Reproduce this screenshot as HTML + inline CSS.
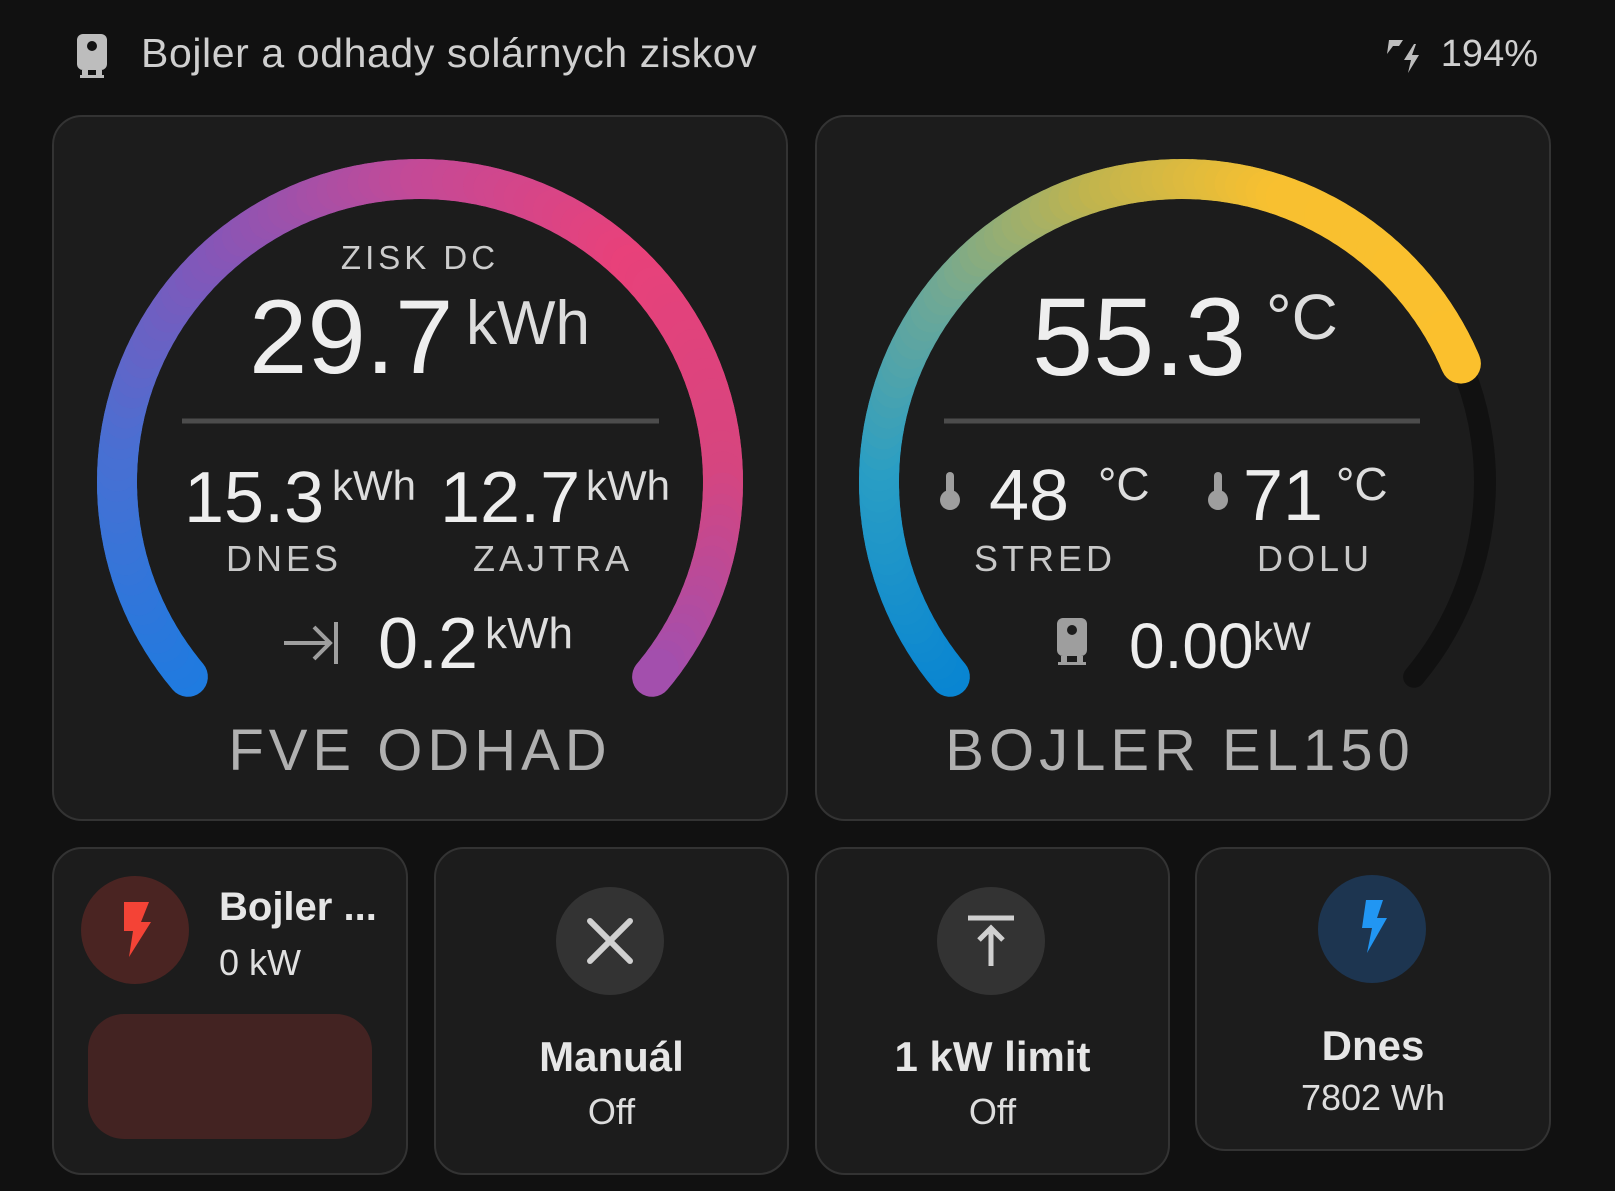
<!DOCTYPE html>
<html><head><meta charset="utf-8"><style>
html,body{margin:0;padding:0;background:#111111;width:1615px;height:1191px;overflow:hidden;font-family:"Liberation Sans",sans-serif;}
.card{position:absolute;background:#1c1c1c;border:2px solid #333;border-radius:30px;box-sizing:border-box;}
.t{position:absolute;white-space:nowrap;line-height:1;color:#e6e6e6;}
</style></head><body>
<div class="card" style="left:52px;top:115px;width:736px;height:706px"></div>
<div class="card" style="left:815px;top:115px;width:736px;height:706px"></div>
<div class="card" style="left:52px;top:847px;width:356px;height:328px"></div>
<div class="card" style="left:434px;top:847px;width:355px;height:328px"></div>
<div class="card" style="left:815px;top:847px;width:355px;height:328px"></div>
<div class="card" style="left:1195px;top:847px;width:356px;height:304px"></div>

<svg id="g" width="1615" height="1191" style="position:absolute;left:0;top:0">
 <g fill="#bdbdbd"><rect x="77" y="34" width="30" height="36" rx="6"/><rect x="82" y="70" width="6" height="6"/><rect x="96" y="70" width="6" height="6"/><rect x="80" y="75" width="24" height="3"/><circle cx="92" cy="46" r="5" fill="#111"/></g>
 <g fill="#bdbdbd"><path d="M1389 40h14l-4 6h-6l-6 8z"/><path d="M1414 44l-10 16h7l-3 13 11-18h-7l4-11z"/></g>
 <line x1="182" y1="421" x2="659" y2="421" stroke="#4c4c4c" stroke-width="5"/>
 <line x1="944" y1="421" x2="1420" y2="421" stroke="#4c4c4c" stroke-width="5"/>
 <g stroke="#9e9e9e" stroke-width="4" fill="none"><line x1="284" y1="643" x2="330" y2="643"/><polyline points="314,627 330,643 314,659"/><line x1="336" y1="622" x2="336" y2="664"/></g>
 <g fill="#9e9e9e"><rect x="946" y="472" width="8" height="30" rx="4"/><circle cx="950" cy="500" r="10"/><rect x="1214" y="472" width="8" height="30" rx="4"/><circle cx="1218" cy="500" r="10"/></g>
 <g fill="#9e9e9e"><rect x="1057" y="618" width="30" height="38" rx="6"/><rect x="1061" y="656" width="6" height="7"/><rect x="1077" y="656" width="6" height="7"/><rect x="1058" y="662" width="28" height="3"/><circle cx="1072" cy="630" r="5" fill="#1c1c1c"/></g>
 <circle cx="135" cy="930" r="54" fill="#4a2422"/>
 <path d="M124 902h25l-8 20h10l-22 35 4-26h-9z" fill="#f44336"/>
 <rect x="88" y="1014" width="284" height="125" rx="36" fill="#432322"/>
 <circle cx="610" cy="941" r="54" fill="#333"/>
 <g stroke="#d0d0d0" stroke-width="6" stroke-linecap="round"><line x1="590" y1="921" x2="630" y2="961"/><line x1="630" y1="921" x2="590" y2="961"/></g>
 <circle cx="991" cy="941" r="54" fill="#333"/>
 <g stroke="#d0d0d0" stroke-width="5" fill="none"><line x1="968" y1="918" x2="1014" y2="918"/><line x1="991" y1="928" x2="991" y2="966"/><polyline points="979,940 991,928 1003,940"/></g>
 <circle cx="1372" cy="929" r="54" fill="#1d3550"/>
 <path d="M1366 900h17l-6 18h10l-20 35 5-25h-10z" fill="#2196f3"/>
</svg>

<div class="t" style="left:141px;top:33px;font-size:41px;color:#cfcfcf;font-weight:500;letter-spacing:0.6px">Bojler a odhady solárnych ziskov</div>
<div class="t" style="right:77px;top:35px;font-size:38px;color:#cfcfcf">194%</div>

<div class="t" style="left:0;width:840px;text-align:center;top:241px;font-size:33px;letter-spacing:4px;color:#cccccc">ZISK DC</div>
<div class="t" style="left:249px;top:285px;font-size:105px;color:#eee">29.7</div>
<div class="t" style="left:466px;top:293px;font-size:62px;color:#ddd">kWh</div>
<div class="t" style="left:184px;top:462px;font-size:72px;color:#eee">15.3</div>
<div class="t" style="left:332px;top:465px;font-size:42px;color:#ddd">kWh</div>
<div class="t" style="left:440px;top:462px;font-size:72px;color:#eee">12.7</div>
<div class="t" style="left:586px;top:465px;font-size:42px;color:#ddd">kWh</div>
<div class="t" style="left:184px;width:200px;text-align:center;top:541px;font-size:36px;letter-spacing:4px;color:#c8c8c8">DNES</div>
<div class="t" style="left:453px;width:200px;text-align:center;top:541px;font-size:36px;letter-spacing:4px;color:#c8c8c8">ZAJTRA</div>
<div class="t" style="left:378px;top:608px;font-size:72px;color:#eee">0.2</div>
<div class="t" style="left:485px;top:612px;font-size:44px;color:#ddd">kWh</div>
<div class="t" style="left:0;width:840px;text-align:center;top:722px;font-size:58px;letter-spacing:5px;color:#b0b0b0">FVE ODHAD</div>

<div class="t" style="left:1032px;top:283px;font-size:110px;color:#eee">55.3</div>
<div class="t" style="left:1266px;top:285px;font-size:64px;color:#ddd">°C</div>
<div class="t" style="left:989px;top:460px;font-size:72px;color:#eee">48</div>
<div class="t" style="left:1098px;top:461px;font-size:46px;color:#ddd">°C</div>
<div class="t" style="left:1243px;top:460px;font-size:72px;color:#eee">71</div>
<div class="t" style="left:1336px;top:461px;font-size:46px;color:#ddd">°C</div>
<div class="t" style="left:945px;width:200px;text-align:center;top:541px;font-size:36px;letter-spacing:4px;color:#c8c8c8">STRED</div>
<div class="t" style="left:1215px;width:200px;text-align:center;top:541px;font-size:36px;letter-spacing:4px;color:#c8c8c8">DOLU</div>
<div class="t" style="left:1129px;top:614px;font-size:64px;color:#eee">0.00</div>
<div class="t" style="left:1253px;top:617px;font-size:40px;color:#ddd">kW</div>
<div class="t" style="left:780px;width:800px;text-align:center;top:722px;font-size:58px;letter-spacing:5px;color:#b0b0b0">BOJLER EL150</div>

<div class="t" style="left:219px;top:887px;font-size:40px;font-weight:bold;color:#e6e6e6">Bojler ...</div>
<div class="t" style="left:219px;top:945px;font-size:36px;color:#e0e0e0">0 kW</div>
<div class="t" style="left:434px;width:355px;text-align:center;top:1036px;font-size:42px;font-weight:bold">Manuál</div>
<div class="t" style="left:434px;width:355px;text-align:center;top:1094px;font-size:36px;color:#ddd">Off</div>
<div class="t" style="left:815px;width:355px;text-align:center;top:1036px;font-size:42px;font-weight:bold">1 kW limit</div>
<div class="t" style="left:815px;width:355px;text-align:center;top:1094px;font-size:36px;color:#ddd">Off</div>
<div class="t" style="left:1195px;width:356px;text-align:center;top:1025px;font-size:42px;font-weight:bold">Dnes</div>
<div class="t" style="left:1195px;width:356px;text-align:center;top:1080px;font-size:36px;color:#ddd">7802 Wh</div>

<script>
var svg=document.getElementById('g'),NS='http://www.w3.org/2000/svg';
function hex(c){return [parseInt(c.substr(1,2),16),parseInt(c.substr(3,2),16),parseInt(c.substr(5,2),16)];}
function col(stops,t){for(var i=0;i<stops.length-1;i++){var a=stops[i],b=stops[i+1];if(t>=a[0]&&t<=b[0]){var f=(t-a[0])/(b[0]-a[0]),x=hex(a[1]),y=hex(b[1]);return 'rgb('+[0,1,2].map(function(k){return Math.round(x[k]+(y[k]-x[k])*f)}).join(',')+')';}}return stops[stops.length-1][1];}
function pt(cx,cy,r,a){a=a*Math.PI/180;return [cx+r*Math.sin(a),cy-r*Math.cos(a)];}
function arc(cx,cy,r,a0,a1,w,color){var p=pt(cx,cy,r,a0),q=pt(cx,cy,r,a1);var e=document.createElementNS(NS,'path');e.setAttribute('d','M'+p[0]+' '+p[1]+'A'+r+' '+r+' 0 0 1 '+q[0]+' '+q[1]);e.setAttribute('stroke',color);e.setAttribute('stroke-width',w);e.setAttribute('fill','none');e.setAttribute('stroke-linecap','round');svg.appendChild(e);}
function grad(cx,cy,r,a0,a1,w,stops){for(var a=a0;a<a1;a+=2){var b=Math.min(a+2.6,a1);arc(cx,cy,r,a,b,w,col(stops,a+1));}}
arc(1182,482,303,66,130,22,'#111111');
grad(420,482,303,-130,130,40,[[-130,'#1e7be0'],[-80,'#4a6fd2'],[-40,'#8456b8'],[0,'#c24a98'],[45,'#e8417a'],[90,'#d6457f'],[130,'#a24fae']]);
grad(1182,482,303,-130,67,40,[[-130,'#0884d2'],[-85,'#2a9ec4'],[-50,'#6ea896'],[-15,'#c0b44e'],[20,'#f8c030'],[67,'#fbc02d']]);
</script>
</body></html>
